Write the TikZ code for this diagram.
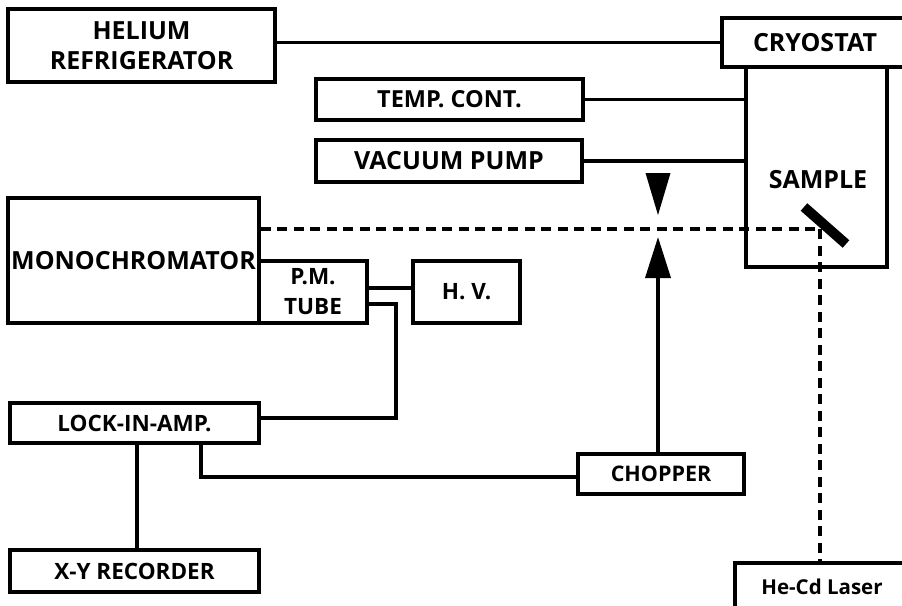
\documentclass[tikz,border=0pt]{standalone}
\usepackage{fontspec}
\setmainfont{Open Sans}
\usetikzlibrary{arrows.meta}
\newcommand{\fbig}{\bfseries\fontsize{25}{30}\selectfont}
\newcommand{\fmid}{\bfseries\fontsize{23.5}{30}\selectfont}
\newcommand{\fsml}{\bfseries\fontsize{22.5}{30}\selectfont}
\tikzset{
  box/.style={draw, line width=3.6pt, inner sep=0pt, align=center, font=\fsml},
  lbl/.style={inner sep=0pt, align=center, font=\fbig},
  wire/.style={line width=3.6pt},
  beam/.style={line width=3.6pt, dash pattern=on 10pt off 6.5pt},
}
\begin{document}
\begin{tikzpicture}[x=1pt,y=-1pt]
\clip (0,0) rectangle (902,605);
\fill[white] (0,0) rectangle (902,605);
\node[box, font=\fbig, minimum width=267pt, minimum height=73pt] (helium) at (141.5,45.5) {HELIUM\\REFRIGERATOR};
\node[box, font=\fbig, minimum width=186pt, minimum height=49pt] (cryo) at (815,42.5) {CRYOSTAT};
\node[box, minimum width=141pt, minimum height=200pt] (body) at (816.5,167) {};
\node[lbl] (sample) at (818,180) {SAMPLE};
\node[box, font=\fmid, minimum width=267pt, minimum height=41pt] (temp) at (449.5,99.5) {TEMP. CONT.};
\node[box, font=\fbig, minimum width=266pt, minimum height=42pt] (vac) at (449,161) {VACUUM PUMP};
\node[box, font=\fbig, minimum width=251pt, minimum height=125pt] (mono) at (133.5,260.5) {MONOCHROMATOR};
\node[box, font=\fsml, minimum width=108pt, minimum height=62pt] (pmt) at (313,292) {P.M.\\TUBE};
\node[box, minimum width=107pt, minimum height=62pt] (hv) at (466.5,292) {H. V.};
\node[box, minimum width=249pt, minimum height=40pt] (lock) at (134.5,423) {LOCK-IN-AMP.};
\node[box, font=\bfseries\fontsize{21.5}{26}\selectfont, minimum width=166pt, minimum height=40pt] (chop) at (661,474) {CHOPPER};
\node[box, minimum width=249pt, minimum height=42pt] (xy) at (134.5,571) {X-Y RECORDER};
\node[box, font=\bfseries\fontsize{20.5}{26}\selectfont, minimum width=174pt, minimum height=48pt] (laser) at (822,587) {He-Cd Laser};
% connectors
\draw[wire] (cryo.west) -- (cryo.west -| helium.east);
\draw[wire] (temp.east) -- (temp.east -| body.west);
\draw[wire] (vac.east) -- (vac.east -| body.west);
\draw[wire] ([yshift=4pt]pmt.east) -- ([yshift=4pt]pmt.east -| hv.west);
\draw[wire] ([yshift=-12pt]pmt.east) -- ++(27,0) |- ([yshift=5pt]lock.east);
\draw[wire] ([xshift=66.5pt]lock.south) |- ([yshift=-3pt]chop.west);
\draw[wire] ([xshift=2.5pt]lock.south) -- ([xshift=2.5pt]xy.north);
\coordinate (tip) at (658,237);
\draw[wire, -{Triangle[length=41pt,width=25pt]}] ([xshift=-3pt]chop.north) -- (tip);
\fill (645.5,173) -- (670.5,173) -- (658,215) -- cycle;
% light path
\coordinate (hit) at (820,229);
\draw[beam] ([yshift=31.5pt]mono.east) -- (hit);
\draw[beam] (hit) -- (hit |- laser.north);
\draw[line width=10pt] (804,207) -- (846,244);
\end{tikzpicture}
\end{document}
